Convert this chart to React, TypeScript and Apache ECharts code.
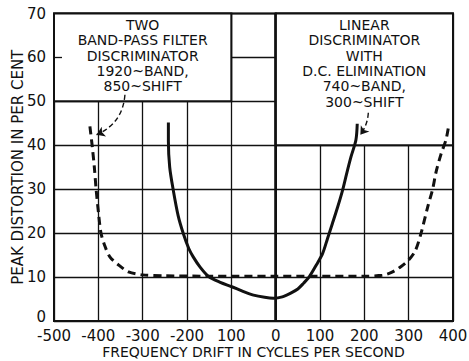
import React, { useEffect, useRef } from "react";
import * as echarts from "echarts";

// Axis ranges and tick labels (as printed on the original)
const X_MIN = -500;
const X_MAX = 400;
const X_STEP = 100;
const Y_MIN = 0;
const Y_MAX = 70;
const Y_STEP = 10;
const xTickLabels = ["-500", "-400", "-300", "-200", "100", "0", "100", "200", "300", "400"];

// Two band-pass filter discriminator (dashed)
const bandPassX = [-419, -414, -409, -405, -399, -394, -385, -374, -355, -332, -300, -250, -150, 0, 100, 200, 240, 260, 280, 300, 315, 328, 343, 354, 362, 373, 384, 390];
const bandPassY = [44.3, 40, 35, 30, 24, 20, 17, 14.6, 12.8, 11.2, 10.5, 10.3, 10.2, 10.2, 10.2, 10.2, 10.4, 11, 12.2, 13.9, 16, 20, 26, 30, 34, 38, 41.2, 44.3];

// Linear discriminator with D.C. elimination (solid)
const linearX = [-242, -242, -239, -231, -220, -208, -196, -186, -170, -152, -125, -99, -75, -50, -25, -5, 15, 33, 50, 63, 76, 92, 106, 117, 128, 140, 151, 160, 170, 181, 184];
const linearY = [45.2, 41, 35, 29.8, 24, 19.8, 16.5, 14.6, 12.2, 10.2, 8.8, 7.8, 6.8, 5.9, 5.4, 5.2, 5.5, 6.3, 7.3, 8.6, 10.1, 12.8, 15.4, 18.8, 22.2, 26, 29.8, 33.5, 37.4, 41.2, 44.9];

// Annotation boxes and arrows
const leftBoxText = "TWO\nBAND-PASS FILTER\nDISCRIMINATOR\n1920~BAND,\n850~SHIFT";
const leftBoxCorners = [[-500, 70], [-100, 50]];
const rightBoxText = "LINEAR\nDISCRIMINATOR\nWITH\nD.C. ELIMINATION\n740~BAND,\n300~SHIFT";
const rightBoxCorners = [[0, 70], [400, 40]];
const leftArrow = [[-340, 51.5], [-404, 42.4]];
const rightArrow = [[209, 47.4], [191, 42.4]];

const FONT = "DejaVu Sans";
const INK = "#111";

export default function App() {
  const ref = useRef<HTMLDivElement>(null);

  useEffect(() => {
    if (!ref.current) return;
    const chart = echarts.init(ref.current, undefined, { renderer: "svg" });

    const bandPass = bandPassX.map((x, i) => [x, bandPassY[i]]);
    const linear = linearX.map((x, i) => [x, linearY[i]]);

    const boxLabel = {
      show: true,
      position: "insideTop",
      distance: 5,
      formatter: "{b}",
      fontFamily: FONT,
      fontSize: 14,
      lineHeight: 15.3,
      color: INK,
      align: "center",
    };

    chart.setOption({
      animation: false,
      backgroundColor: "#fff",
      textStyle: { fontFamily: FONT, color: INK },
      grid: {
        left: 54,
        right: 16,
        top: 13.5,
        bottom: 40,
        containLabel: false,
        outerBoundsMode: "none",
        show: true,
        borderColor: INK,
        borderWidth: 2,
        backgroundColor: "transparent",
      },
      xAxis: {
        type: "value",
        min: X_MIN,
        max: X_MAX,
        interval: X_STEP,
        name: "FREQUENCY DRIFT IN CYCLES PER SECOND",
        nameLocation: "middle",
        nameGap: 24,
        nameMoveOverlap: false,
        nameTextStyle: { fontFamily: FONT, fontSize: 14, lineHeight: 14, color: INK },
        axisLine: { show: true, onZero: false, lineStyle: { color: INK, width: 2 } },
        axisTick: { show: false },
        axisLabel: {
          margin: 7,
          fontFamily: FONT,
          fontSize: 15,
          lineHeight: 15,
          color: INK,
          formatter: (v: number) => xTickLabels[Math.round((v - X_MIN) / X_STEP)] ?? "",
        },
        splitLine: { show: true, lineStyle: { color: INK, width: 1.3 } },
      },
      yAxis: {
        type: "value",
        min: Y_MIN,
        max: Y_MAX,
        interval: Y_STEP,
        name: "PEAK DISTORTION IN PER CENT",
        nameLocation: "middle",
        nameRotate: 90,
        nameGap: 29,
        nameMoveOverlap: false,
        nameTextStyle: { fontFamily: FONT, fontSize: 15, color: INK },
        axisLine: { show: true, lineStyle: { color: INK, width: 2 } },
        axisTick: { show: false },
        axisLabel: {
          margin: 8,
          fontFamily: FONT,
          fontSize: 15,
          color: INK,
          formatter: (v: number) => (v === Y_MIN ? "{base|" + v + "}" : String(v)),
          rich: { base: { fontFamily: FONT, fontSize: 15, color: INK, padding: [0, 0, 9, 0] } },
        },
        splitLine: { show: true, lineStyle: { color: INK, width: 1.3 } },
      },
      series: [
        {
          type: "line",
          name: "Linear discriminator",
          data: linear,
          smooth: 0.3,
          showSymbol: false,
          symbol: "none",
          lineStyle: { color: INK, width: 3 },
          z: 3,
          markArea: {
            silent: true,
            itemStyle: { color: "#fff", borderColor: INK, borderWidth: 2, opacity: 1 },
            label: boxLabel,
            data: [
              [
                { name: leftBoxText, coord: leftBoxCorners[0] },
                { coord: leftBoxCorners[1] },
              ],
              [
                { name: rightBoxText, coord: rightBoxCorners[0] },
                { coord: rightBoxCorners[1] },
              ],
            ],
          },
          markLine: {
            silent: true,
            symbol: "none",
            label: { show: false },
            data: [
              { xAxis: 0, lineStyle: { color: INK, width: 2.5, type: "solid" } },
              [
                { coord: [X_MIN, 60], lineStyle: { color: INK, width: 1.3, type: "solid" } },
                { coord: [X_MIN + 18, 60] },
              ],
            ],
          },
        },
        {
          type: "line",
          name: "Two band-pass filter discriminator",
          data: bandPass,
          smooth: 0.3,
          showSymbol: false,
          symbol: "none",
          lineStyle: { color: INK, width: 3, type: [8, 5] },
          z: 3,
        },
        {
          type: "lines",
          coordinateSystem: "cartesian2d",
          silent: true,
          symbol: ["none", "arrow"],
          symbolSize: 8,
          lineStyle: { color: INK, opacity: 1, width: 1.4, type: [5, 3], curveness: 0.3 },
          data: [{ coords: leftArrow }],
          z: 4,
        },
        {
          type: "lines",
          coordinateSystem: "cartesian2d",
          silent: true,
          symbol: ["none", "arrow"],
          symbolSize: 8,
          lineStyle: { color: INK, opacity: 1, width: 1.4, type: [5, 3], curveness: 0.15 },
          data: [{ coords: rightArrow }],
          z: 4,
        },
      ],
    });

    return () => chart.dispose();
  }, []);

  return (
    <div
      ref={ref}
      style={{ position: "fixed", left: 0, top: 0, width: 469, height: 361, background: "#fff" }}
    />
  );
}
